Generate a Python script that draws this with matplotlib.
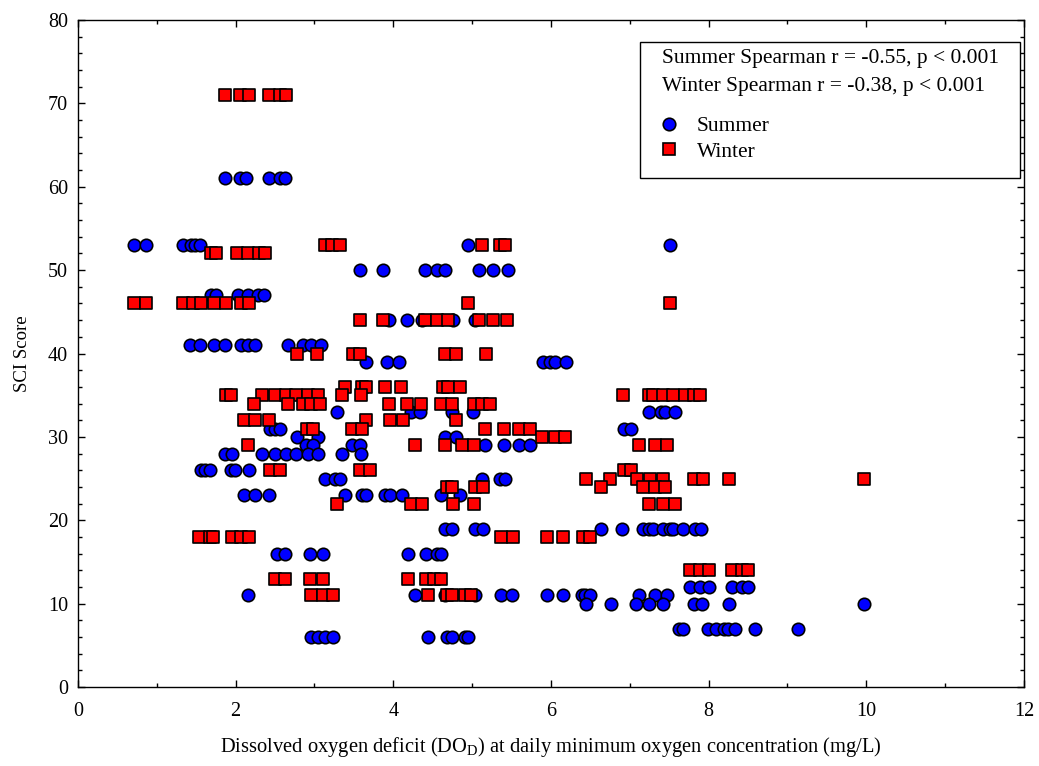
import matplotlib
matplotlib.use("Agg")
import matplotlib.pyplot as plt
from matplotlib.lines import Line2D
from matplotlib.patches import Rectangle

plt.rcParams["font.family"] = ["Liberation Serif", "DejaVu Serif"]
plt.rcParams["mathtext.fontset"] = "custom"
plt.rcParams["mathtext.rm"] = "Liberation Serif"

# Summer points, one line per SCI score level
summer_x = [
    1.87, 2.05, 2.13, 2.42, 2.56, 2.63,
    0.71, 0.86, 1.33, 1.44, 1.48, 1.55, 4.95, 7.51,
    3.58, 3.87, 4.40, 4.55, 4.66, 5.09, 5.26, 5.45,
    1.69, 1.75, 2.03, 2.16, 2.28, 2.36,
    3.94, 4.17, 4.36, 4.76, 5.04,
    1.42, 1.55, 1.73, 1.87, 2.07, 2.16, 2.24, 2.66, 2.85, 2.96, 3.08,
    3.65, 3.92, 4.07, 5.90, 5.99, 6.05, 6.19,
    3.28, 4.22, 4.34, 4.75, 5.01, 7.25, 7.40, 7.45, 7.57,
    2.44, 2.50, 2.56, 6.93, 7.02,
    2.78, 3.04, 4.66, 4.80,
    2.89, 2.98, 3.48, 3.58, 5.16, 5.41, 5.59, 5.74,
    1.87, 1.95, 2.33, 2.50, 2.64, 2.77, 2.92, 3.04, 3.35, 3.59,
    1.56, 1.61, 1.68, 1.94, 1.99, 2.17,
    3.13, 3.26, 3.32, 5.12, 5.35, 5.42,
    2.11, 2.24, 2.43, 3.39, 3.60, 3.66, 3.89, 3.96, 4.11, 4.61, 4.85,
    4.66, 4.75, 5.04, 5.14, 6.63, 6.90, 7.17, 7.24, 7.30, 7.42, 7.51, 7.55, 7.68, 7.83, 7.90,
    2.52, 2.63, 2.95, 3.11, 4.19, 4.42, 4.55, 4.61,
    7.76, 7.89, 8.01, 8.30, 8.42, 8.50,
    2.16, 4.28, 4.66, 5.04, 5.37, 5.51, 5.95, 6.15, 6.39, 6.43, 6.50, 7.12, 7.32, 7.47,
    6.44, 6.76, 7.08, 7.25, 7.42, 7.81, 7.92, 8.26, 9.97,
    7.62, 7.68, 7.99, 8.10, 8.19, 8.25, 8.33, 8.59, 9.13,
    2.96, 3.05, 3.13, 3.23, 4.44, 4.68, 4.75, 4.91, 4.95,
]
summer_y = (
    [61] * 6 + [53] * 8 + [50] * 8 + [47] * 6 + [44] * 5 + [41] * 11
    + [39] * 7 + [33] * 9 + [31] * 5 + [30] * 4 + [29] * 8 + [28] * 10
    + [26] * 6 + [25] * 6 + [23] * 11 + [19] * 15 + [16] * 8 + [12] * 6
    + [11] * 14 + [10] * 9 + [7] * 9 + [6] * 9
)

# Winter points
winter_x = [
    1.87, 2.06, 2.17, 2.42, 2.56, 2.64,
    3.13, 3.22, 3.32, 5.13, 5.35, 5.42,
    1.69, 1.75, 2.02, 2.16, 2.30, 2.37,
    0.71, 0.86, 1.33, 1.46, 1.56, 1.73, 1.88, 2.07, 2.17, 4.95, 7.51,
    3.58, 3.87, 4.40, 4.55, 4.69, 5.09, 5.26, 5.44,
    2.78, 3.03, 3.49, 3.58, 4.66, 4.80, 5.18,
    3.39, 3.60, 3.66, 3.89, 4.10, 4.63, 4.70, 4.85,
    1.88, 1.94, 2.33, 2.50, 2.64, 2.77, 2.92, 3.04, 3.35, 3.59, 6.91, 7.24, 7.30, 7.42, 7.55, 7.70, 7.81, 7.89,
    2.23, 2.67, 2.85, 2.96, 3.07, 3.94, 4.17, 4.35, 4.61, 4.75, 5.03, 5.13, 5.23,
    2.11, 2.24, 2.43, 3.66, 3.96, 4.12, 4.80,
    2.90, 2.98, 3.48, 3.60, 5.16, 5.41, 5.59, 5.74,
    5.89, 6.05, 6.18,
    2.16, 4.28, 4.66, 4.87, 5.02, 7.12, 7.32, 7.47,
    2.44, 2.56, 3.58, 3.70, 6.93, 7.02,
    6.45, 6.75, 7.09, 7.26, 7.42, 7.81, 7.93, 8.26, 9.97,
    4.68, 4.75, 5.04, 5.14, 6.63, 7.17, 7.32, 7.45,
    3.28, 4.23, 4.36, 4.76, 5.02, 7.25, 7.42, 7.57,
    1.54, 1.67, 1.71, 1.96, 2.07, 2.17, 5.37, 5.52, 5.95, 6.15, 6.41, 6.50,
    7.76, 7.89, 8.01, 8.30, 8.42, 8.50,
    2.50, 2.63, 2.95, 3.11, 4.19, 4.42, 4.52, 4.61,
    2.96, 3.11, 3.24, 4.44, 4.68, 4.74, 4.91, 4.99,
]
winter_y = (
    [71] * 6 + [53] * 6 + [52] * 6 + [46] * 11 + [44] * 8 + [40] * 7
    + [36] * 8 + [35] * 18 + [34] * 13 + [32] * 7 + [31] * 8 + [30] * 3
    + [29] * 8 + [26] * 6 + [25] * 9 + [24] * 8 + [22] * 8 + [18] * 12
    + [14] * 6 + [13] * 8 + [11] * 8
)

stats_lines = ["Summer Spearman r = -0.55, p < 0.001",
               "Winter Spearman r = -0.38, p < 0.001"]

fig = plt.figure(figsize=(10.39, 7.66), dpi=100)
ax = fig.add_axes([0.075, 0.103, 0.9105, 0.871])

ax.scatter(summer_x, summer_y, s=80, marker="o", c="#0000ff",
           edgecolors="black", linewidths=1.2, zorder=3, label="Summer")
ax.scatter(winter_x, winter_y, s=80, marker="s", c="#ff0000",
           edgecolors="black", linewidths=1.2, zorder=3, label="Winter")

ax.set_xlim(0, 12)
ax.set_ylim(0, 80)
ax.set_xticks(range(0, 13, 2))
ax.set_xticks(range(0, 13), minor=True)
ax.set_yticks(range(0, 81, 10))
ax.set_yticks(range(0, 81, 2), minor=True)
ax.tick_params(which="both", direction="in", top=True, right=True,
               labelsize=14.5, width=1)
ax.tick_params(which="major", length=5)
ax.tick_params(which="minor", length=3)
ax.tick_params(axis="x", which="major", pad=11)
ax.tick_params(axis="y", which="major", pad=7)
for sp in ax.spines.values():
    sp.set_linewidth(1)

ax.set_xlabel(r"Dissolved oxygen deficit (DO$_\mathrm{D}$) at daily minimum oxygen concentration (mg/L)",
              fontsize=14.8, labelpad=10)
ax.set_ylabel("SCI Score", fontsize=13.5, labelpad=12)

# legend box: frame, statistics text and the two series entries
ax.add_patch(Rectangle((0.594, 0.763), 0.402, 0.204, transform=ax.transAxes,
                       fill=True, facecolor="white", edgecolor="black",
                       linewidth=1, zorder=4))
ax.text(0.617, 0.9415, stats_lines[0], transform=ax.transAxes,
        fontsize=15.5, va="center", ha="left", zorder=5)
ax.text(0.617, 0.8995, stats_lines[1], transform=ax.transAxes,
        fontsize=15.5, va="center", ha="left", zorder=5)

handles = [
    Line2D([], [], marker="o", ls="none", mfc="#0000ff", mec="black", ms=9, mew=1.2),
    Line2D([], [], marker="s", ls="none", mfc="#ff0000", mec="black", ms=9, mew=1.2),
]
leg = ax.legend(handles, ["Summer", "Winter"], loc="upper left",
                bbox_to_anchor=(0.613, 0.856), frameon=False,
                fontsize=15.5, borderpad=0, labelspacing=0.25,
                handlelength=1.0, handletextpad=0.8, borderaxespad=0)
leg.set_zorder(6)

fig.savefig("out.png", dpi=100)
